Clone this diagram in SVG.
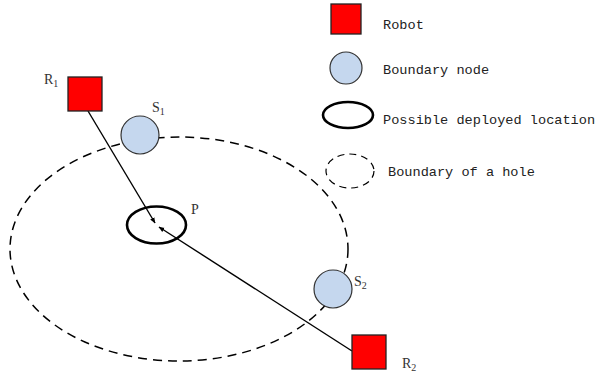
<svg xmlns="http://www.w3.org/2000/svg" width="598" height="375" viewBox="0 0 598 375">
<defs>
<style>
.robot{fill:#ff0000;stroke:#222;stroke-width:1.3}
.bnode{fill:#c5d7ee;stroke:#333;stroke-width:1.2}
.loc{fill:none;stroke:#000;stroke-width:2.6}
.hole{fill:none;stroke:#000;stroke-width:1.5;stroke-dasharray:9,6}
.conn{stroke:#000;stroke-width:1.4;fill:none}
.lbl{font-family:"Liberation Serif",serif;font-size:14px;fill:#333}
.leg{font-family:"Liberation Mono",monospace;font-size:13.6px;fill:#222}
</style>
<marker id="arr" viewBox="0 0 10 10" refX="9" refY="5" markerWidth="6" markerHeight="6" orient="auto" markerUnits="userSpaceOnUse">
<path d="M0,1 L10,5 L0,9 Z" fill="#000"/>
</marker>
</defs>
<rect width="598" height="375" fill="#fff"/>
<g id="hole-boundary">
<ellipse class="hole" cx="179" cy="249" rx="169" ry="112"/>
</g>
<g id="P">
<ellipse class="loc" cx="156.5" cy="225" rx="29.5" ry="18.5"/>
<text class="lbl" x="191" y="214">P</text>
</g>
<g id="connectors">
<line class="conn" x1="88" y1="111" x2="155" y2="223" marker-end="url(#arr)"/>
<line class="conn" x1="352" y1="351" x2="159" y2="227" marker-end="url(#arr)"/>
</g>
<g id="S1">
<circle class="bnode" cx="140" cy="135" r="19"/>
<text class="lbl" x="152" y="112">S<tspan font-size="10" dy="3">1</tspan></text>
</g>
<g id="S2">
<circle class="bnode" cx="333" cy="289" r="19"/>
<text class="lbl" x="354" y="286">S<tspan font-size="10" dy="3">2</tspan></text>
</g>
<g id="R1">
<rect class="robot" x="68" y="77" width="34" height="34"/>
<text class="lbl" x="44" y="84">R<tspan font-size="10" dy="3">1</tspan></text>
</g>
<g id="R2">
<rect class="robot" x="352" y="335" width="34" height="34"/>
<text class="lbl" x="402" y="368">R<tspan font-size="10" dy="3">2</tspan></text>
</g>
<g id="legend">
<rect class="robot" x="331" y="4" width="30" height="30"/>
<text class="leg" x="383" y="29">Robot</text>
<circle class="bnode" cx="346" cy="68" r="16"/>
<text class="leg" x="383" y="74">Boundary node</text>
<ellipse class="loc" cx="348" cy="115" rx="25" ry="13"/>
<text class="leg" x="383" y="124">Possible deployed location</text>
<ellipse class="hole" cx="350" cy="171" rx="24" ry="17" style="stroke-dasharray:7,5;stroke-width:1.2"/>
<text class="leg" x="388" y="176">Boundary of a hole</text>
</g>
</svg>
